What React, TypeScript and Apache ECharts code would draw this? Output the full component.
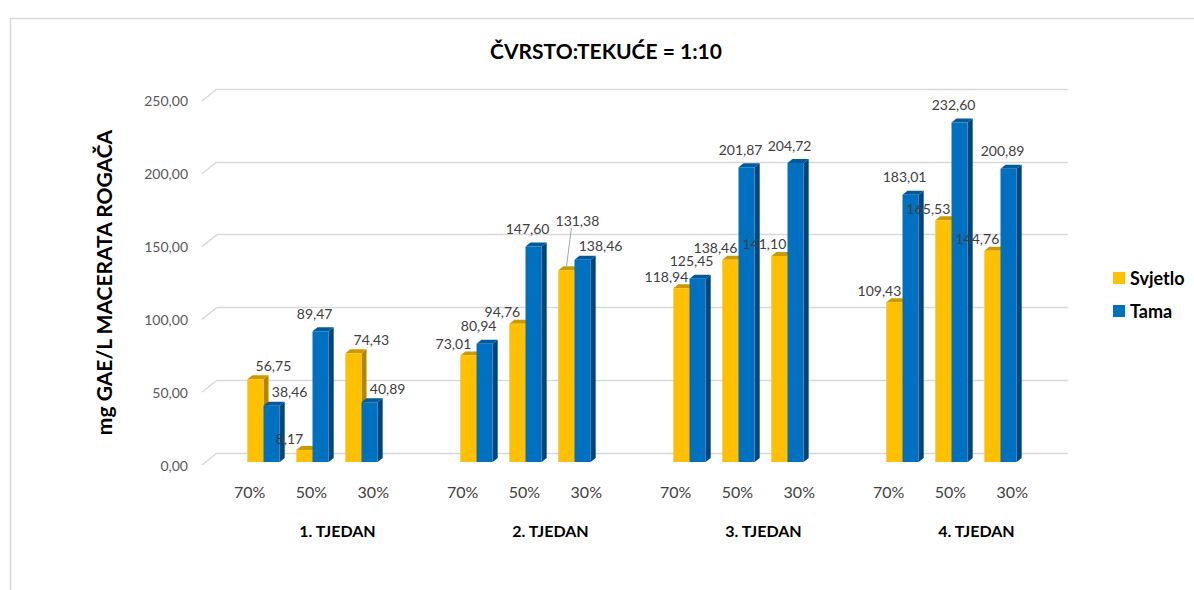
import React, { useEffect, useRef } from "react";
import * as echarts from "echarts";

const weeks = ["1. TJEDAN", "2. TJEDAN", "3. TJEDAN", "4. TJEDAN"];
const ratios = ["70%", "50%", "30%"];
const svjetlo = [
  [56.75, 8.17, 74.43],
  [73.01, 94.76, 131.38],
  [118.94, 138.46, 141.1],
  [109.43, 165.53, 144.76],
];
const tama = [
  [38.46, 89.47, 40.89],
  [80.94, 147.6, 138.46],
  [125.45, 201.87, 204.72],
  [183.01, 232.6, 200.89],
];
const yTicks = [0, 50, 100, 150, 200, 250];

const FONT = "Lato, 'Noto Sans', sans-serif";
const fmt = (v: number) => v.toFixed(2).replace(".", ",");

const toData = (arr: number[][]) => {
  const out: number[][] = [];
  arr.forEach((row, w) => row.forEach((v, s) => out.push([w, s, v])));
  return out;
};

const palettes = [
  { front: "#FFC000", top: "#CC9A00", side: "#B38600" },
  { front: "#0070C0", top: "#005A9C", side: "#00447A" },
];

// label placement styling: default upper-left; some groups have labels on the right side
const MOVED = { series: 0, week: 1, sub: 2, dx: 11, dy: -50 };
const LABEL_DX = [-15, -6];
const LABEL_DY = [-12, -18];
const RIGHT_DX = 18;
const RIGHT_DY = -14;
const RIGHT_SLOTS = [
  [0, 0],
  [0, 2],
];
const RIGHT_SLOTS_TAMA = [[1, 2]];

function geom(sIdx: number, api: any) {
  const w = api.value(0);
  const sub = api.value(1);
  const val = api.value(2);
  const band = api.size([1, 0])[0];
  const base = api.coord([w, 0]);
  const top = api.coord([w, val]);
  const center = base[0] + (sub - 1) * band * 0.23;
  const bw = band * 0.076;
  const x0 = sIdx === 0 ? center - bw : center;
  const x1 = x0 + bw;
  const lift = 3;
  return { w, sub, val, x0, x1, yb: base[1] - lift, yt: top[1] - lift };
}

function makeBarRender(sIdx: number) {
  const pal = palettes[sIdx];
  return (params: any, api: any) => {
    const { x0, x1, yb, yt } = geom(sIdx, api);
    const dx = 5;
    const dy = 4;
    return {
      type: "group",
      children: [
        {
          type: "polygon",
          shape: { points: [[x1, yt], [x1 + dx, yt - dy], [x1 + dx, yb - dy], [x1, yb]] },
          style: { fill: pal.side },
        },
        {
          type: "polygon",
          shape: { points: [[x0, yt], [x0 + dx, yt - dy], [x1 + dx, yt - dy], [x1, yt]] },
          style: { fill: pal.top },
        },
        {
          type: "rect",
          shape: { x: x0, y: yt, width: x1 - x0, height: yb - yt },
          style: { fill: pal.front },
        },
      ],
    };
  };
}

function makeLabelRender(sIdx: number) {
  return (params: any, api: any) => {
    const { w, sub, val, x0, x1, yt } = geom(sIdx, api);
    const bc = (x0 + x1) / 2;
    const moved = sIdx === MOVED.series && w === MOVED.week && sub === MOVED.sub;
    const slots = sIdx === 0 ? RIGHT_SLOTS : RIGHT_SLOTS.concat(RIGHT_SLOTS_TAMA);
    const right = slots.some((p) => p[0] === w && p[1] === sub);
    let lx = bc + LABEL_DX[sIdx];
    let ly = yt + LABEL_DY[sIdx];
    if (right) {
      lx = bc + RIGHT_DX;
      ly = yt + RIGHT_DY;
    }
    if (moved) {
      lx = bc + MOVED.dx;
      ly = yt + MOVED.dy;
    }
    const children: any[] = [];
    if (moved) {
      children.push({
        type: "line",
        shape: { x1: lx - 6, y1: ly + 8, x2: bc, y2: yt - 3 },
        style: { stroke: "#A6A6A6", lineWidth: 1 },
      });
    }
    children.push({
      type: "text",
      x: lx,
      y: ly,
      style: {
        text: fmt(val),
        fill: "#404040",
        font: `14px ${FONT}`,
        align: "center",
        verticalAlign: "middle",
      },
    });
    return { type: "group", children };
  };
}

export default function App() {
  const ref = useRef<HTMLDivElement>(null);
  useEffect(() => {
    if (!ref.current) return;
    const chart = echarts.init(ref.current, undefined, { renderer: "svg" });
    const tickData: number[][] = [];
    weeks.forEach((_, w) => ratios.forEach((_, s) => tickData.push([w, s])));
    chart.setOption({
      animation: false,
      backgroundColor: "#fff",
      textStyle: { fontFamily: FONT },
      title: {
        text: "ČVRSTO:TEKUĆE = 1:10",
        left: 601,
        top: 35,
        textAlign: "center",
        textStyle: { fontSize: 21, fontWeight: "bold", color: "#000", fontFamily: FONT },
      },
      legend: {
        orient: "vertical",
        left: 1108,
        top: 264,
        itemWidth: 12,
        itemHeight: 12,
        itemGap: 15,
        textStyle: { fontSize: 18, fontWeight: "bold", color: "#000", fontFamily: FONT },
        data: [
          { name: "Svjetlo", icon: "rect", itemStyle: { color: palettes[0].front } },
          { name: "Tama", icon: "rect", itemStyle: { color: palettes[1].front } },
        ],
      },
      graphic: [
        {
          type: "rect",
          left: 8,
          top: 16,
          shape: { width: 1400, height: 800 },
          style: { fill: "none", stroke: "#D9D9D9", lineWidth: 1.5 },
          silent: true,
        },
      ],
      grid: [
        { left: 217, top: 89, width: 851, height: 364 },
        { left: 206, top: 100, width: 852, height: 365 },
      ],
      xAxis: [
        { gridIndex: 0, type: "value", min: 0, max: 1, show: false },
        {
          gridIndex: 1,
          type: "category",
          data: weeks,
          axisLine: { show: false },
          axisTick: { show: false },
          axisLabel: {
            margin: 57,
            padding: [0, 0, 0, 50],
            fontSize: 16,
            fontWeight: "bold",
            color: "#000",
            fontFamily: FONT,
          },
        },
      ],
      yAxis: [
        {
          gridIndex: 0,
          type: "value",
          min: 0,
          max: 250,
          interval: 50,
          axisLabel: { show: false },
          axisLine: { show: false },
          axisTick: { show: false },
          splitLine: { lineStyle: { color: "#D9D9D9", width: 1.4 } },
        },
        {
          gridIndex: 1,
          type: "value",
          min: 0,
          max: 250,
          interval: 50,
          axisLine: { show: false },
          axisTick: { show: false },
          splitLine: { show: false },
          axisLabel: {
            margin: 18,
            fontSize: 14,
            color: "#595959",
            fontFamily: FONT,
            formatter: (v: number) => fmt(v),
          },
          name: "mg GAE/L MACERATA ROGAČA",
          nameLocation: "middle",
          nameRotate: 90,
          nameGap: 92,
          nameTextStyle: { fontSize: 21, fontWeight: "bold", color: "#000", fontFamily: FONT },
        },
      ],
      series: [
        {
          type: "custom",
          name: "wall",
          xAxisIndex: 0,
          yAxisIndex: 0,
          silent: true,
          data: yTicks.map((v) => [0, v]),
          renderItem: (params: any, api: any) => {
            const p = api.coord([0, api.value(1)]);
            return {
              type: "line",
              shape: { x1: p[0] - 15, y1: p[1] + 12, x2: p[0], y2: p[1] },
              style: { stroke: "#D9D9D9", lineWidth: 1.4 },
            };
          },
        },
        {
          type: "custom",
          name: "ticks",
          xAxisIndex: 1,
          yAxisIndex: 1,
          silent: true,
          data: tickData,
          renderItem: (params: any, api: any) => {
            const w = api.value(0);
            const s = api.value(1);
            const band = api.size([1, 0])[0];
            const base = api.coord([w, 0]);
            return {
              type: "text",
              x: base[0] + (s - 1) * band * 0.29 - 1,
              y: base[1] + 26,
              style: {
                text: ratios[s],
                fill: "#404040",
                font: `16px ${FONT}`,
                align: "center",
                verticalAlign: "middle",
              },
            };
          },
        },
        {
          type: "custom",
          name: "Svjetlo",
          xAxisIndex: 1,
          yAxisIndex: 1,
          itemStyle: { color: palettes[0].front },
          data: toData(svjetlo),
          renderItem: makeBarRender(0),
        },
        {
          type: "custom",
          name: "Tama",
          xAxisIndex: 1,
          yAxisIndex: 1,
          itemStyle: { color: palettes[1].front },
          data: toData(tama),
          renderItem: makeBarRender(1),
        },
        {
          type: "custom",
          name: "lblSvjetlo",
          xAxisIndex: 1,
          yAxisIndex: 1,
          silent: true,
          z: 10,
          data: toData(svjetlo),
          renderItem: makeLabelRender(0),
        },
        {
          type: "custom",
          name: "lblTama",
          xAxisIndex: 1,
          yAxisIndex: 1,
          silent: true,
          z: 10,
          data: toData(tama),
          renderItem: makeLabelRender(1),
        },
      ],
    });
    return () => chart.dispose();
  }, []);
  return (
    <div
      ref={ref}
      style={{ position: "absolute", left: 0, top: 0, width: 1194, height: 590 }}
    />
  );
}
